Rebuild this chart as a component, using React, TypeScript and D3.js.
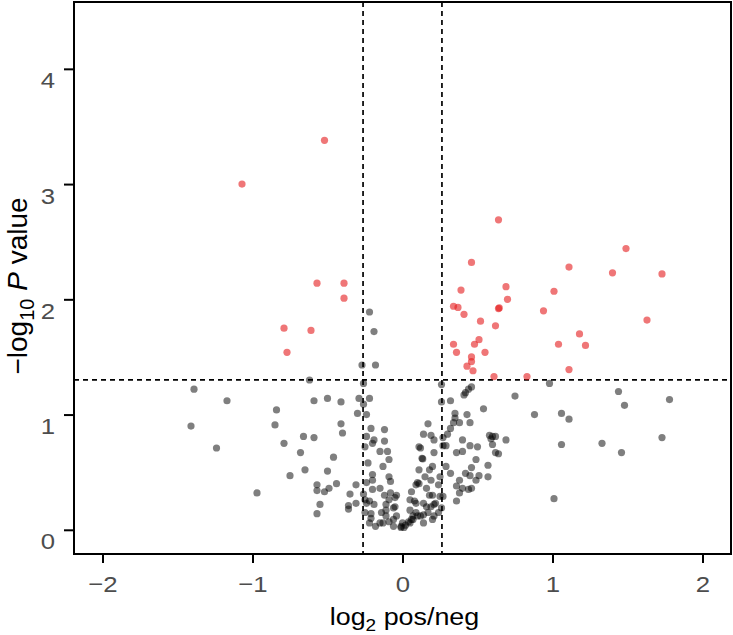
import { useEffect, useRef } from 'react'
import * as d3 from 'd3'

// significant points (P < 0.05 and |log2FC| > log2(1.2)) [log2 pos/neg, -log10 P]
const sigPoints: [number, number][] = [
  [-0.52, 3.38], [-1.07, 3.0], [-0.57, 2.14], [-0.39, 2.14], [-0.39, 2.01], [-0.79, 1.75], [-0.61, 1.73], [-0.77, 1.54],
  [0.64, 2.69], [0.46, 2.32], [1.49, 2.44], [1.11, 2.28], [1.4, 2.23], [1.73, 2.22], [0.39, 2.08], [0.69, 2.11],
  [0.7, 2.0], [1.01, 2.07], [0.34, 1.94], [0.37, 1.93], [0.41, 1.87], [0.64, 1.92], [0.645, 1.925], [0.94, 1.9],
  [0.52, 1.81], [0.62, 1.77], [1.63, 1.82], [1.18, 1.7], [0.51, 1.65], [0.48, 1.61], [0.34, 1.61], [1.04, 1.61],
  [1.22, 1.6], [0.36, 1.54], [0.55, 1.54], [0.46, 1.5], [0.46, 1.46], [0.43, 1.42], [0.47, 1.38], [1.11, 1.39],
  [0.61, 1.33], [0.83, 1.33],
]

// non-significant points
const nsPoints: [number, number][] = [
  [-0.62, 1.3], [-1.39, 1.22], [-1.17, 1.12], [-0.59, 1.12], [-0.5, 1.14], [-0.84, 1.04], [-1.41, 0.9], [-0.85, 0.91],
  [-0.66, 0.81], [-0.59, 0.8], [-0.79, 0.75], [-1.24, 0.71], [-0.68, 0.67], [-0.46, 0.63], [-0.65, 0.52], [-0.5, 0.51],
  [-0.75, 0.47], [-0.57, 0.39], [-0.57, 0.34], [-0.52, 0.33], [-0.49, 0.36], [-0.97, 0.32], [-0.55, 0.22], [-0.57, 0.14],
  [-0.41, 1.11], [-0.29, 1.14], [-0.26, 1.09], [-0.22, 1.14], [-0.3, 1.01], [-0.24, 1.0], [-0.41, 0.92], [-0.4, 0.84],
  [-0.44, 0.4], [-0.35, 0.31], [-0.31, 0.39], [-0.36, 0.21], [-0.36, 0.18], [-0.31, 0.23],
  [-0.22, 1.89], [-0.19, 1.72], [-0.27, 1.43], [-0.18, 1.43], [-0.26, 1.27],
  [-0.21, 0.88], [-0.12, 0.87], [-0.24, 0.81], [-0.19, 0.78], [-0.2, 0.75], [-0.25, 0.72], [-0.12, 0.77], [-0.15, 0.68],
  [-0.1, 0.68], [-0.09, 0.61], [-0.13, 0.55], [-0.23, 0.58], [-0.2, 0.48], [-0.2, 0.43], [-0.09, 0.46], [-0.24, 0.41],
  [-0.26, 0.31], [-0.2, 0.35], [-0.15, 0.36], [-0.12, 0.3], [-0.08, 0.32], [-0.05, 0.28], [-0.25, 0.26], [-0.22, 0.25],
  [-0.19, 0.22], [-0.21, 0.14], [-0.14, 0.15], [-0.11, 0.17], [-0.06, 0.19], [-0.04, 0.12], [-0.01, 0.03], [0.04, 0.07],
  [0.07, 0.09], [0.01, 0.02], [-0.22, 0.06], [-0.15, 0.06], [-0.09, 0.07], [0.05, 0.26], [0.09, 0.23], [0.1, 0.12],
  [0.11, 0.52], [0.1, 0.41], [0.11, 0.72],
  [-0.08, 0.42], [-0.09, 0.26], [-0.04, 0.3], [-0.24, 0.23], [-0.11, 0.22], [-0.05, 0.2], [-0.21, 0.1], [-0.11, 0.12],
  [-0.06, 0.09], [-0.01, 0.02], [0.02, 0.04], [0.06, 0.09], [0.0, 0.06], [0.05, 0.17], [0.09, 0.15], [0.12, 0.12],
  [0.17, 0.15], [0.19, 0.2], [0.14, 0.23], [0.08, 0.25], [0.06, 0.33], [0.11, 0.4], [0.16, 0.36], [0.15, 0.46],
  [0.19, 0.43], [0.24, 0.39], [0.25, 0.46], [0.18, 0.3], [0.25, 0.29], [0.22, 0.23], [0.24, 0.15], [0.2, 0.09],
  [0.14, 0.06], [-0.13, 0.06], [-0.18, 0.03], [-0.25, 0.15], [-0.06, 0.03],
  [0.46, 1.24], [0.44, 1.22], [0.42, 1.19], [0.41, 1.17], [0.26, 1.11], [0.32, 1.12], [0.54, 1.05], [0.35, 1.01],
  [0.35, 0.97], [0.43, 1.0], [0.34, 0.93], [0.38, 0.93], [0.45, 0.93], [0.32, 0.88], [0.17, 0.92], [0.14, 0.83],
  [0.19, 0.82], [0.3, 0.83], [0.27, 0.8], [0.21, 0.78], [0.4, 0.78], [0.58, 0.82], [0.59, 0.79], [0.12, 0.71],
  [0.27, 0.73], [0.29, 0.73], [0.45, 0.73], [0.5, 0.72], [0.36, 0.67], [0.4, 0.68], [0.21, 0.67], [0.62, 0.67],
  [0.13, 0.62], [0.135, 0.615], [0.49, 0.61], [0.57, 0.56], [0.2, 0.55], [0.29, 0.55], [0.46, 0.54], [0.18, 0.52],
  [0.42, 0.49], [0.32, 0.49], [0.45, 0.47], [0.51, 0.47], [0.38, 0.43], [0.57, 0.46], [0.49, 0.43], [0.36, 0.38],
  [0.4, 0.36], [0.44, 0.35], [0.46, 0.36], [0.09, 0.39], [0.38, 0.32], [0.27, 0.29], [0.2, 0.3], [0.36, 0.25],
  [0.21, 0.22], [0.16, 0.2], [0.26, 0.19], [0.14, 0.13], [0.21, 0.12], [0.07, 0.12], [0.05, 0.06], [0.26, 1.26],
  [0.98, 1.27], [0.75, 1.16], [1.44, 1.2], [1.48, 1.08], [1.78, 1.13], [0.88, 1.0], [1.06, 1.01], [1.11, 0.96],
  [0.6, 0.81], [0.62, 0.81], [0.69, 0.78], [0.6, 0.74], [0.64, 0.66], [1.06, 0.74], [1.33, 0.75], [1.46, 0.67],
  [1.73, 0.8], [1.01, 0.27],
]

const xTicks = [-2, -1, 0, 1, 2]
const yTicks = [0, 1, 2, 3, 4]
const fcCut = 0.263 // log2(1.2)
const pCut = 1.301 // -log10(0.05)

export default function App() {
  const svgRef = useRef<SVGSVGElement>(null)

  useEffect(() => {
    const W = 733
    const H = 635
    const margin = { top: 2, right: 2, bottom: 81, left: 74 }
    const innerW = W - margin.left - margin.right
    const innerH = H - margin.top - margin.bottom
    const font = '"Liberation Sans", Arial, sans-serif'
    const sx = 1.12 // text in the original is a little wider than tall

    const x = d3.scaleLinear().domain([-2.19, 2.19]).range([0, innerW])
    const y = d3.scaleLinear().domain([-0.21, 4.58]).range([innerH, 0])

    const svg = d3.select(svgRef.current)
    svg.selectAll('*').remove()
    svg.attr('width', W).attr('height', H)

    const g = svg.append('g').attr('transform', `translate(${margin.left},${margin.top})`)

    // Threshold lines
    const dash = '5,4'
    ;[-fcCut, fcCut].forEach((v) => {
      g.append('line')
        .attr('x1', x(v)).attr('x2', x(v))
        .attr('y1', 0).attr('y2', innerH)
        .attr('stroke', '#000').attr('stroke-width', 1.7).attr('stroke-dasharray', dash)
    })
    g.append('line')
      .attr('x1', 0).attr('x2', innerW)
      .attr('y1', y(pCut)).attr('y2', y(pCut))
      .attr('stroke', '#000').attr('stroke-width', 1.7).attr('stroke-dasharray', dash)

    // Points
    g.append('g')
      .selectAll('circle')
      .data(nsPoints)
      .join('circle')
      .attr('cx', (d) => x(d[0]))
      .attr('cy', (d) => y(d[1]))
      .attr('r', 3.6)
      .attr('fill', '#000')
      .attr('fill-opacity', 0.5)

    g.append('g')
      .selectAll('circle')
      .data(sigPoints)
      .join('circle')
      .attr('cx', (d) => x(d[0]))
      .attr('cy', (d) => y(d[1]))
      .attr('r', 3.6)
      .attr('fill', '#e41a1c')
      .attr('fill-opacity', 0.6)

    // Panel border
    g.append('rect')
      .attr('width', innerW).attr('height', innerH)
      .attr('fill', 'none').attr('stroke', '#000').attr('stroke-width', 2)

    // X axis
    g.append('g')
      .attr('transform', `translate(0,${innerH})`)
      .call(d3.axisBottom(x).tickValues(xTicks).tickSize(9).tickFormat((d) => d3.format('d')(d as number)))
      .call((ax) => ax.select('.domain').remove())
      .call((ax) => ax.selectAll('line').attr('stroke', '#000').attr('stroke-width', 2))
      .call((ax) =>
        ax.selectAll('text')
          .attr('x', null).attr('y', null).attr('dy', null)
          .attr('transform', `translate(0,38) scale(${sx},1)`)
          .attr('fill', '#4d4d4d')
          .attr('font-size', 23)
          .attr('font-family', font)
      )

    // Y axis
    g.append('g')
      .call(d3.axisLeft(y).tickValues(yTicks).tickSize(10).tickFormat((d) => `${d}`))
      .call((ax) => ax.select('.domain').remove())
      .call((ax) => ax.selectAll('line').attr('stroke', '#000').attr('stroke-width', 2))
      .call((ax) =>
        ax.selectAll('text')
          .attr('x', null).attr('y', null).attr('dy', null)
          .attr('transform', `translate(-19,19) scale(${sx},1)`)
          .attr('fill', '#4d4d4d')
          .attr('font-size', 23)
          .attr('font-family', font)
      )

    // Axis titles
    const xt = svg.append('text')
      .attr('transform', `translate(${margin.left + x(0) + 2},625) scale(${sx},1)`)
      .attr('text-anchor', 'middle')
      .attr('font-size', 24)
      .attr('font-family', font)
      .attr('fill', '#000')
    xt.append('tspan').text('log')
    xt.append('tspan').attr('font-size', 17).attr('dy', 6).text('2')
    xt.append('tspan').attr('dy', -6).text(' pos/neg')

    const yt = svg.append('text')
      .attr('transform', `translate(27,286) rotate(-90)`)
      .attr('text-anchor', 'middle')
      .attr('font-size', 28)
      .attr('font-family', font)
      .attr('fill', '#000')
    yt.append('tspan').text('−log')
    yt.append('tspan').attr('font-size', 20).attr('dy', 7).text('10')
    yt.append('tspan').attr('dy', -7).text(' ')
    yt.append('tspan').attr('font-style', 'italic').text('P')
    yt.append('tspan').text(' value')

    return () => {
      svg.selectAll('*').remove()
    }
  }, [])

  return (
    <div style={{ position: 'absolute', left: 0, top: 0, background: '#fff' }}>
      <svg ref={svgRef} style={{ display: 'block' }} />
    </div>
  )
}
